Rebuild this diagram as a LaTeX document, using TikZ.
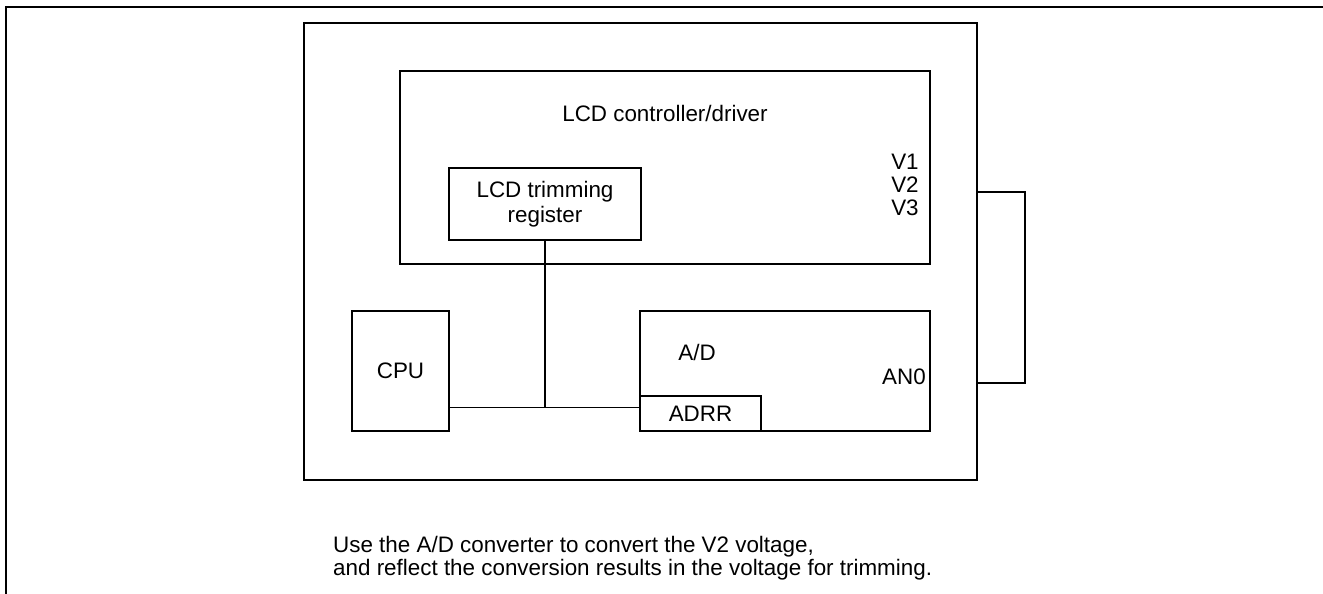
\documentclass[tikz,border=0pt]{standalone}
\usepackage{fontspec}
\setmainfont{Liberation Sans}
\usetikzlibrary{positioning}
\tikzset{
  blk/.style={draw, line width=1.4pt, inner sep=0pt, align=center},
  wire/.style={line width=0.6pt},
}

\begin{document}
\begin{tikzpicture}[x=0.02cm, y=-0.02cm, font=\fontsize{12.75}{14.2}\selectfont]
  \useasboundingbox (0,0) rectangle (1323,594);

  % --- page frame ----------------------------------------------------
  \draw[line width=1.5pt] (6,594) -- (6,7) -- (1323,7);

  % --- microcontroller and its blocks --------------------------------
  \node[blk, minimum width=13.46cm, minimum height=9.14cm] (chip) at (640.5,251.5) {};
  \node[blk, minimum width=10.6cm, minimum height=3.86cm] (lcd) at (665,167.5) {};
  \node[blk, minimum width=3.84cm, minimum height=1.44cm] (trim) at (545,204) {LCD trimming\\register};
  \node[blk, minimum width=1.94cm, minimum height=2.4cm] (cpu) at (400.5,371) {CPU};
  \node[blk, minimum width=5.8cm, minimum height=2.4cm] (ad) at (785,371) {};
  \node[blk, minimum width=2.42cm, minimum height=0.7cm] (adrr) at (700.5,413.5) {ADRR};

  % labels inside the blocks
  \node (lcdname) at (665,113) {LCD controller/driver};
  \node[align=left, font=\fontsize{12.75}{13}\selectfont] (vpins) at (905,185) {V1\\V2\\V3};
  \node (adname) at (697,352) {A/D};
  \node (an0) at (904,377) {AN0};

  % --- internal bus ---------------------------------------------------
  \coordinate (bus) at (545,407.5);
  \draw[wire] (trim.south) -- (bus);
  \draw[wire] (cpu.east |- bus) -- (adrr.west |- bus);

  % --- V2 looped back to AN0 -------------------------------------------
  \coordinate (v2tap) at (977,192);
  \coordinate (an0tap) at (977,383);
  \draw[wire] (v2tap) -- ++(48,0) |- (an0tap);

  % --- note -------------------------------------------------------------
  \node[anchor=west, align=left, font=\fontsize{12.75}{13.2}\selectfont] (note) at (327,558)
        {Use the A/D converter to convert the V2 voltage,\\and reflect the conversion results in the voltage for trimming.};

\end{tikzpicture}
\end{document}
